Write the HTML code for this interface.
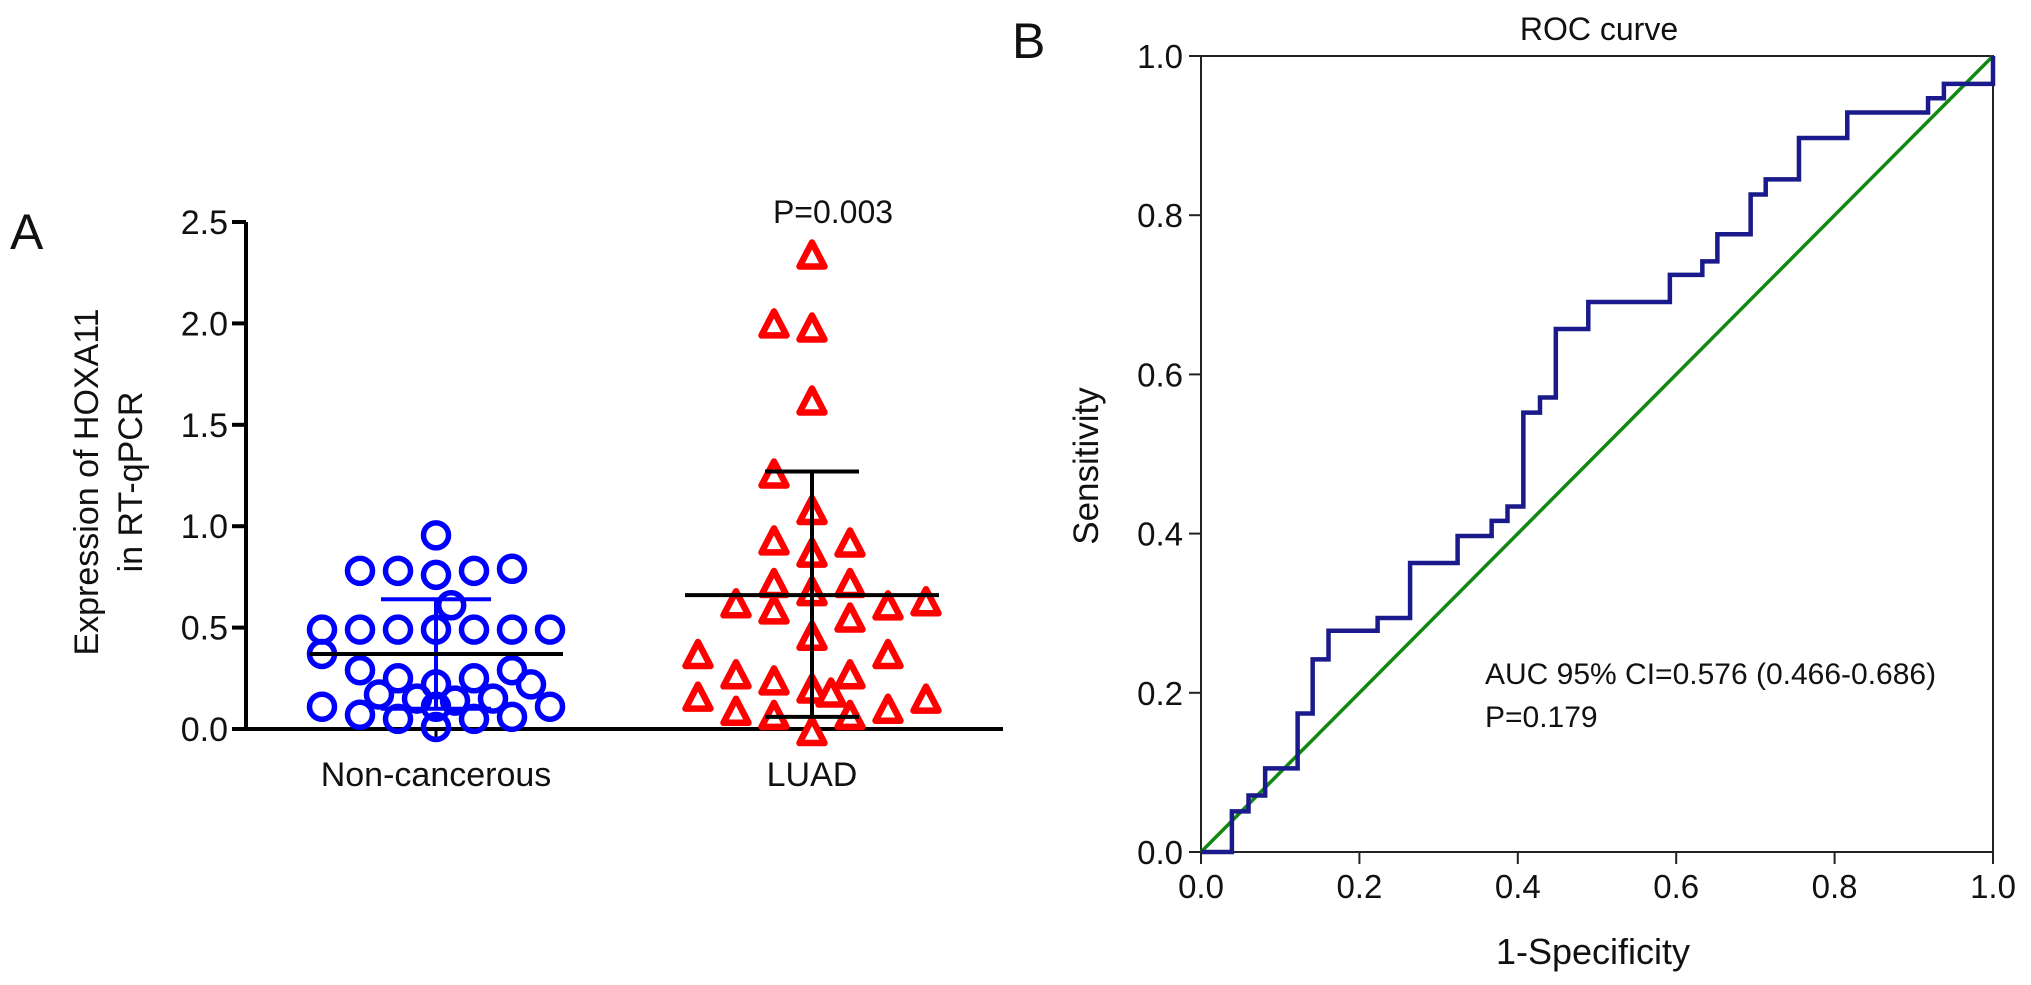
<!DOCTYPE html>
<html><head><meta charset="utf-8"><style>
html,body{margin:0;padding:0;background:#fff;}
svg{display:block;font-family:"Liberation Sans",Arial,sans-serif;}
</style></head><body>
<svg id="fig" width="2031" height="985" viewBox="0 0 2031 985" xmlns="http://www.w3.org/2000/svg">
<text x="10" y="249" font-size="50" fill="#111">A</text>
<text x="1012" y="58" font-size="50" fill="#111">B</text>
<g id="pa"></g>
<g id="pb"></g>
</svg>
<script>
// ---- Panel A data ----
const groups = ["Non-cancerous", "LUAD"];
const yTicksA = [0.0, 0.5, 1.0, 1.5, 2.0, 2.5];
const ncValues = [0.955,0.78,0.78,0.76,0.78,0.79,0.61,0.49,0.49,0.49,0.49,0.49,0.49,0.49,0.37,0.29,0.25,0.22,0.25,0.29,0.22,0.17,0.15,0.14,0.15,0.11,0.11,0.11,0.07,0.05,0.05,0.06,0.01];
const ncCols   = [0,-2,-1,0,1,2,0.4,-3,-2,-1,0,1,2,3,-3,-2,-1,0,1,2,2.5,-1.5,-0.5,0.5,1.5,-3,3,0,-2,-1,1,2,0];
const luValues = [2.33,1.99,1.97,1.61,1.25,1.07,0.92,0.91,0.86,0.71,0.71,0.67,0.61,0.58,0.60,0.62,0.54,0.45,0.36,0.36,0.26,0.23,0.26,0.19,0.17,0.15,0.14,0.09,0.08,0.06,0.06,-0.02];
const luCols   = [0,-1,0,0,-1,0,-1,1,0,-1,1,0,-2,-1,2,3,1,0,-3,2,-2,-1,1,0,0.5,-3,3,2,-2,-1,1,0];
const ncMean = 0.37, ncSDup = 0.64, ncSDlo = 0.10;
const luMean = 0.66, luSDup = 1.27, luSDlo = 0.06;
// ---- Panel B data ----
const rocFpr = [0.039,0.06,0.081,0.122,0.141,0.161,0.223,0.264,0.324,0.367,0.387,0.407,0.428,0.448,0.489,0.592,0.633,0.652,0.694,0.713,0.755,0.816,0.918,0.938,1.0];
const rocTpr = [0.051,0.071,0.105,0.174,0.242,0.278,0.294,0.363,0.397,0.416,0.434,0.552,0.571,0.657,0.691,0.725,0.742,0.776,0.826,0.845,0.897,0.929,0.947,0.965,1.0];
const rocTicks = [0.0,0.2,0.4,0.6,0.8,1.0];

const NS="http://www.w3.org/2000/svg";
function mk(parent,tag,attrs,txt){const e=document.createElementNS(NS,tag);for(const k in attrs)e.setAttribute(k,attrs[k]);if(txt!==undefined)e.textContent=txt;parent.appendChild(e);return e;}

// Panel A
const pa=document.getElementById('pa');
const ax0=246, ay0=729, ay1=222;
const yA=v=>ay0-(v/2.5)*(ay0-ay1);
const gx=[436,812];
const colW=38;
let e;
e=mk(pa,'line',{x1:ax0,y1:yA(0),x2:ax0,y2:yA(2.5),stroke:'#000','stroke-width':4});


e=mk(pa,'line',{x1:ax0,y1:yA(0),x2:1003,y2:yA(0),stroke:'#000','stroke-width':4});


yTicksA.forEach(t=>{
  e=mk(pa,'line',{x1:ax0-14,y1:yA(t),x2:ax0,y2:yA(t),stroke:'#000','stroke-width':4});
  
  
  e=mk(pa,'text',{x:ax0-18,y:yA(t)+12,'font-size':34,'text-anchor':'end',fill:'#111'},t.toFixed(1));
  
  
});
groups.forEach((g,i)=>{
  e=mk(pa,'line',{x1:gx[i],y1:yA(0),x2:gx[i],y2:yA(0)+10,stroke:'#000','stroke-width':3});
  
  
  e=mk(pa,'text',{x:gx[i],y:786,'font-size':34,'text-anchor':'middle',fill:'#111'},g);
  
  
});
e=mk(pa,'text',{transform:'translate(98,482) rotate(-90)','font-size':34,'text-anchor':'middle',fill:'#111'},'Expression of HOXA11');


e=mk(pa,'text',{transform:'translate(142,482) rotate(-90)','font-size':34,'text-anchor':'middle',fill:'#111'},'in RT-qPCR');


e=mk(pa,'text',{x:833,y:223,'font-size':32,'text-anchor':'middle',fill:'#111'},'P=0.003');


ncValues.forEach((v,i)=>{
  e=mk(pa,'circle',{cx:gx[0]+ncCols[i]*colW,cy:yA(v),r:12.5,fill:'none',stroke:'#0000ff','stroke-width':5.5});
  
  
});
luValues.forEach((v,i)=>{
  const cx=gx[1]+luCols[i]*colW, cy=yA(v);
  e=mk(pa,'polygon',{points:`${cx},${cy-14} ${cx+12.5},${cy+10} ${cx-12.5},${cy+10}`,fill:'#fff',stroke:'#ff0000','stroke-width':6.5,'stroke-linejoin':'round'});
  
  
});
function errbar(cx,mean,up,lo,mw,cw,name){
  e=mk(pa,'line',{x1:cx,y1:yA(up),x2:cx,y2:yA(lo),stroke:name==='nc'?'#0000ff':'#000','stroke-width':4});
  
  
  e=mk(pa,'line',{x1:cx-cw,y1:yA(up),x2:cx+cw,y2:yA(up),stroke:name==='nc'?'#0000ff':'#000','stroke-width':4});
  
  
  e=mk(pa,'line',{x1:cx-cw,y1:yA(lo),x2:cx+cw,y2:yA(lo),stroke:name==='nc'?'#0000ff':'#000','stroke-width':4});
  
  
  e=mk(pa,'line',{x1:cx-mw,y1:yA(mean),x2:cx+mw,y2:yA(mean),stroke:'#000','stroke-width':4});
  
  
}
errbar(gx[0],ncMean,ncSDup,ncSDlo,127,55,'nc');
errbar(gx[1],luMean,luSDup,luSDlo,127,47,'lu');

// Panel B
const pb=document.getElementById('pb');
const bx0=1201,bx1=1993,by0=852,by1=56;
const xB=v=>bx0+v*(bx1-bx0), yB=v=>by0-v*(by0-by1);
e=mk(pb,'rect',{x:bx0,y:by1,width:bx1-bx0,height:by0-by1,fill:'none',stroke:'#222','stroke-width':2});


rocTicks.forEach(t=>{
  e=mk(pb,'line',{x1:bx0-12,y1:yB(t),x2:bx0,y2:yB(t),stroke:'#222','stroke-width':2});
  
  
  e=mk(pb,'text',{x:bx0-18,y:yB(t)+12,'font-size':33,'text-anchor':'end',fill:'#111'},t.toFixed(1));
  
  
  e=mk(pb,'line',{x1:xB(t),y1:by0,x2:xB(t),y2:by0+12,stroke:'#222','stroke-width':2});
  
  
  e=mk(pb,'text',{x:xB(t),y:898,'font-size':33,'text-anchor':'middle',fill:'#111'},t.toFixed(1));
  
  
});
e=mk(pb,'line',{x1:xB(0),y1:yB(0),x2:xB(1),y2:yB(1),stroke:'#118811','stroke-width':3.5});


let d=`M${xB(0)},${yB(0)}`;
rocFpr.forEach((f,i)=>{d+=` H${xB(f)} V${yB(rocTpr[i])}`;});
e=mk(pb,'path',{d:d,fill:'none',stroke:'#1a1a8c','stroke-width':4.5});


e=mk(pb,'text',{x:1599,y:40,'font-size':32,'text-anchor':'middle',fill:'#111'},'ROC curve');


e=mk(pb,'text',{x:1593,y:964,'font-size':36,'text-anchor':'middle',fill:'#111'},'1-Specificity');


e=mk(pb,'text',{transform:'translate(1098,466) rotate(-90)','font-size':35,'text-anchor':'middle',fill:'#111'},'Sensitivity');


e=mk(pb,'text',{x:1485,y:684,'font-size':30,fill:'#111'},'AUC 95% CI=0.576 (0.466-0.686)');


e=mk(pb,'text',{x:1485,y:727,'font-size':30,fill:'#111'},'P=0.179');


</script>
</body></html>
